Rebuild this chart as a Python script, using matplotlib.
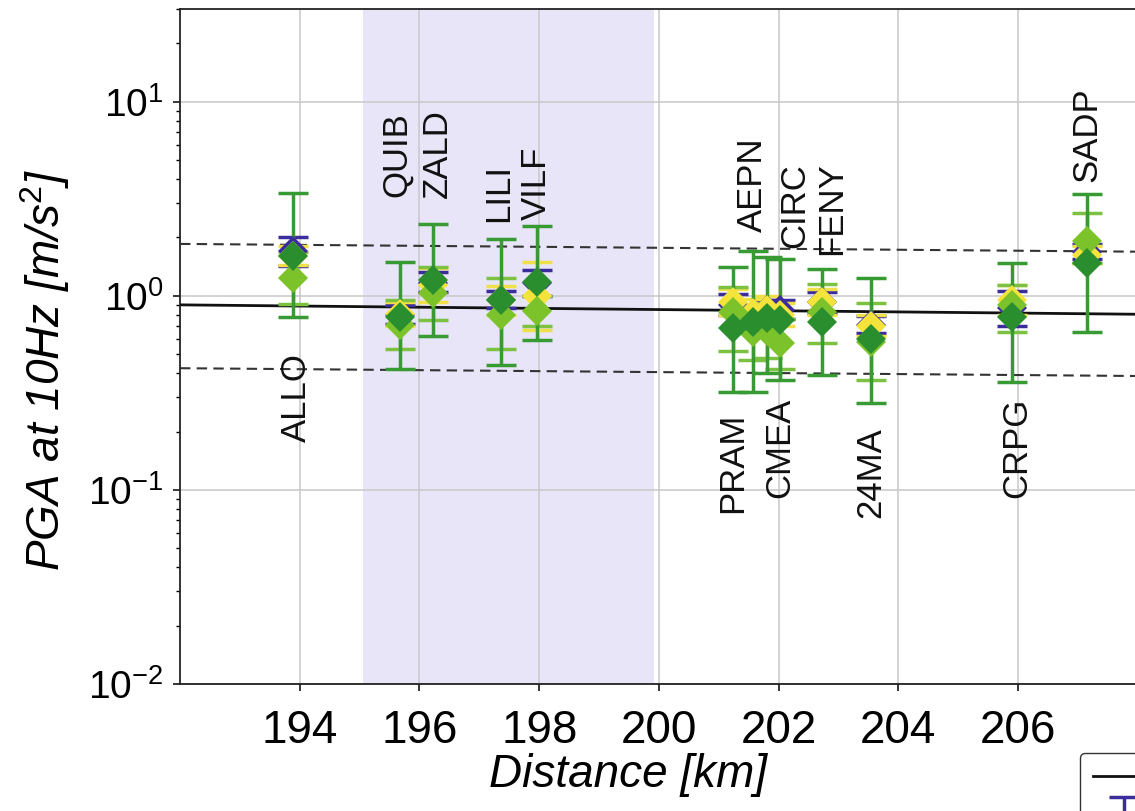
import numpy as np
import matplotlib.pyplot as plt

plt.rcParams['font.family'] = ['Liberation Sans', 'DejaVu Sans']
plt.rcParams['mathtext.fontset'] = 'custom'
plt.rcParams['mathtext.rm'] = 'Liberation Sans'
plt.rcParams['mathtext.it'] = 'Liberation Sans:italic'

# stations, hypocentral distance [km]
stations = ['ALLO', 'QUIB', 'ZALD', 'LILI', 'VILF', 'PRAM', 'AEPN',
            'CMEA', 'CIRC', 'FENY', '24MA', 'CRPG', 'SADP']
dist = [193.88, 195.67, 196.22, 197.37, 197.96, 201.23, 201.57,
        201.80, 202.02, 202.72, 203.54, 205.90, 207.15]

# where the station name goes (above / below the points)
label_side = ['below', 'above', 'above', 'above', 'above', 'below', 'above',
              'below', 'above', 'above', 'below', 'below', 'above']
label_pga = [0.51, 3.24, 3.20, 2.40, 2.46, 0.25, 2.14,
             0.30, 1.77, 1.63, 0.21, 0.30, 3.87]
label_shift = [0.07, -0.05, 0.08, -0.04, 0.0, 0.0, 0.0,
               0.22, 0.25, 0.17, 0.0, 0.08, 0.0]

# PGA at 10 Hz [m/s2]: value, lower and upper error bar ends
blue_c = [1.71, 0.80, 1.17, 0.95, 1.17, 0.90, 0.80, 0.85, 0.85, 0.93, 0.71, 0.87, 1.69]
blue_lo = [1.43, 0.72, 1.05, 0.87, 1.00, 0.80, 0.72, 0.76, 0.76, 0.82, 0.64, 0.70, 1.55]
blue_hi = [2.01, 0.90, 1.33, 1.06, 1.36, 1.02, 0.90, 0.95, 0.95, 1.05, 0.79, 1.06, 1.85]

yel_c = [1.60, 0.81, 1.14, 0.95, 1.00, 0.93, 0.82, 0.85, 0.80, 0.93, 0.70, 0.95, 1.63]
yel_lo = [1.45, 0.70, 0.93, 0.80, 0.67, 0.80, 0.70, 0.72, 0.70, 0.80, 0.62, 0.80, 1.48]
yel_hi = [1.80, 0.93, 1.40, 1.13, 1.50, 1.08, 0.96, 1.00, 0.92, 1.08, 0.80, 1.14, 1.80]

lgt_c = [1.24, 0.71, 1.04, 0.80, 0.84, 0.83, 0.65, 0.66, 0.57, 0.83, 0.58, 0.90, 1.92]
lgt_lo = [0.91, 0.53, 0.75, 0.53, 0.70, 0.52, 0.47, 0.48, 0.42, 0.57, 0.37, 0.65, 1.48]
lgt_hi = [1.69, 0.95, 1.41, 1.24, 1.00, 1.11, 0.90, 0.92, 0.76, 1.15, 0.92, 1.14, 2.68]

drk_c = [1.61, 0.78, 1.21, 0.95, 1.18, 0.68, 0.73, 0.77, 0.75, 0.73, 0.60, 0.78, 1.48]
drk_lo = [0.78, 0.42, 0.62, 0.44, 0.59, 0.32, 0.32, 0.40, 0.37, 0.39, 0.28, 0.36, 0.65]
drk_hi = [3.40, 1.50, 2.35, 1.97, 2.30, 1.41, 1.71, 1.59, 1.55, 1.38, 1.24, 1.48, 3.36]

# ground motion model: median and +/- one sigma
gm_dist = [192.0, 210.0]
gm_median = [0.899, 0.793]
gm_plus = [1.853, 1.670]
gm_minus = [0.424, 0.382]

fig = plt.figure(figsize=(11.35, 8.11), dpi=100)
ax = fig.add_axes([0.1586, 0.1566, 0.9494, 0.832])

ax.axvspan(195.05, 199.92, color='#e8e5f8', zorder=0, lw=0)

med_line, = ax.plot(gm_dist, gm_median, color='#111111', lw=2.0, zorder=3)
ax.plot(gm_dist, gm_plus, color='#333333', lw=1.5, ls=(0, (5, 3)), zorder=3)
ax.plot(gm_dist, gm_minus, color='#333333', lw=1.5, ls=(0, (5, 3)), zorder=3)

series = [
    (blue_c, blue_lo, blue_hi, '#3b2d9c', '#3b2d9c'),
    (yel_c, yel_lo, yel_hi, '#f3e33b', '#efe04a'),
    (lgt_c, lgt_lo, lgt_hi, '#7cc22a', '#7dc142'),
    (drk_c, drk_lo, drk_hi, '#2a8e2e', '#389a33'),
]
handles = []
for c, lo, hi, mcol, ecol in series:
    c = np.array(c)
    yerr = [c - np.array(lo), np.array(hi) - c]
    eb = ax.errorbar(dist, c, yerr=yerr, fmt='none', ecolor=ecol,
                     elinewidth=2.5, capsize=11, capthick=2.5, zorder=4)
    handles.append(eb)
for c, lo, hi, mcol, ecol in series:
    ax.plot(dist, c, ls='none', marker='D', ms=15.5, mew=0, color=mcol, zorder=6)

for name, d, side, y, sh in zip(stations, dist, label_side, label_pga, label_shift):
    ax.text(d + sh, y, name, rotation=90, ha='center',
            va='bottom' if side == 'above' else 'top', fontsize=25, color='#111111')

ax.set_yscale('log')
ax.set_xlim(192, 210)
ax.set_ylim(0.01, 30)
ax.set_xticks([194, 196, 198, 200, 202, 204, 206])
ax.grid(True, which='major', color='#c8c8c8', lw=1.1)
ax.set_axisbelow(True)
ax.tick_params(axis='x', which='major', labelsize=33, length=5, width=1.1, pad=13)
ax.tick_params(axis='y', which='major', labelsize=28, length=5, width=1.1, pad=7)
ax.tick_params(axis='y', which='minor', length=3, width=1.0)
for sp in ax.spines.values():
    sp.set_linewidth(1.3)
    sp.set_color('#222222')

ax.set_xlabel('Distance [km]', fontsize=33, fontstyle='italic')
ax.set_ylabel(r'PGA at 10Hz [m/s$^{2}$]', fontsize=33, fontstyle='italic')
ax.xaxis.set_label_coords(0.4157, -0.102)
ax.yaxis.set_label_coords(-0.1, 0.465)

fig.legend([med_line, handles[0]], ['Median', 'Data'],
           loc='upper left', bbox_to_anchor=(1080 / 1135, 1 - 753 / 811),
           bbox_transform=fig.transFigure, borderaxespad=0, borderpad=0.5,
           fontsize=18, labelspacing=0.4, handlelength=2.5, framealpha=1,
           edgecolor='#333333', fancybox=True)

fig.savefig('out.png', dpi=100)
